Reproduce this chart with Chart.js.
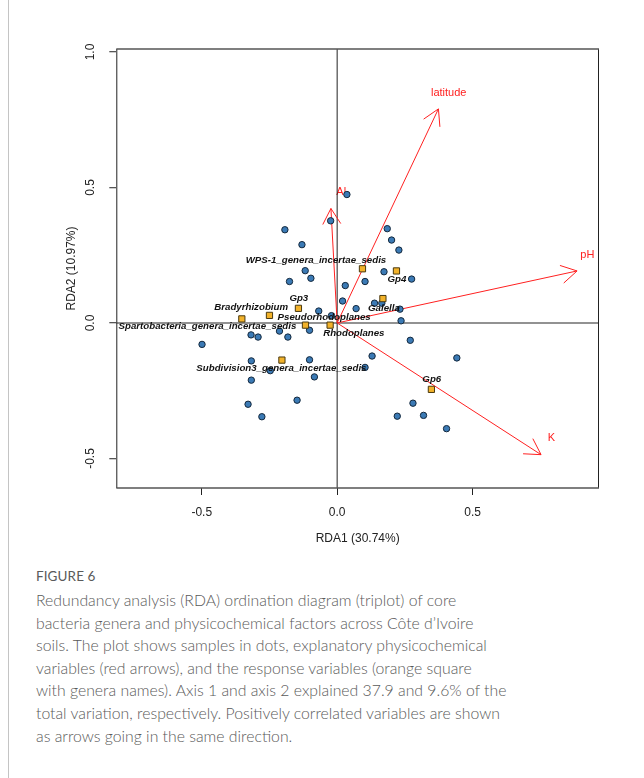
<!DOCTYPE html>
<html>
<head>
<meta charset="utf-8">
<script src="https://cdn.jsdelivr.net/npm/chart.js@4.4.0/dist/chart.umd.min.js"></script>
<style>
body { margin: 0; background: #fff; }
#wrap { position: relative; width: 644px; height: 778px; overflow: hidden; }
#edge { position: absolute; left: 8px; top: 0; width: 1px; height: 778px; background: #c4c4c4; }
#chart { position: absolute; left: 0; top: 0; }
.cap { position: absolute; left: 36px; top: 568px; color: #5a5a5a; font-family: Lato, "Open Sans", sans-serif; }
.cap .fig { font-size: 13.5px; letter-spacing: 0.1px; margin: 0 0 5px 0; }
.cap p { margin: 0; font-size: 15.8px; font-weight: 300; line-height: 22.6px; white-space: nowrap; }
</style>
</head>
<body>
<div id="wrap">
  <div id="edge"></div>
  <canvas id="chart" width="644" height="560"></canvas>
  <div class="cap">
    <div class="fig">FIGURE 6</div>
    <p>Redundancy analysis (RDA) ordination diagram (triplot) of core<br>
    bacteria genera and physicochemical factors across Côte d’Ivoire<br>
    soils. The plot shows samples in dots, explanatory physicochemical<br>
    variables (red arrows), and the response variables (orange square<br>
    with genera names). Axis 1 and axis 2 explained 37.9 and 9.6% of the<br>
    total variation, respectively. Positively correlated variables are shown<br>
    as arrows going in the same direction.</p>
  </div>
</div>
<script>
// site scores (samples)
var siteX = [0.036, -0.024, -0.193, -0.130, -0.118, -0.097, -0.176, 0.030, 0.020, -0.068,
             -0.021, 0.070, -0.318, -0.292, -0.213, -0.182, -0.102, -0.499, -0.317, -0.102,
             -0.247, -0.317, -0.084, -0.329, -0.148, -0.278, 0.103, 0.129, 0.185, 0.201,
             0.228, 0.173, 0.103, 0.275, 0.138, 0.165, 0.232, 0.236, 0.270, 0.442,
             0.280, 0.222, 0.319, 0.404];
var siteY = [0.474, 0.377, 0.344, 0.289, 0.193, 0.165, 0.153, 0.138, 0.081, 0.044,
             0.027, 0.053, -0.044, -0.052, -0.030, -0.052, -0.027, -0.079, -0.140, -0.136,
             -0.176, -0.211, -0.199, -0.300, -0.285, -0.346, -0.164, -0.122, 0.348, 0.306,
             0.269, 0.189, 0.153, 0.162, 0.073, 0.073, 0.051, 0.008, -0.064, -0.129,
             -0.296, -0.344, -0.341, -0.390];

// genus scores
var generaNames = ['WPS-1_genera_incertae_sedis', 'Gp4', 'Galella', 'Gp3', 'Bradyrhizobium',
                   'Spartobacteria_genera_incertae_sedis', 'Pseudorhodoplanes', 'Rhodoplanes',
                   'Subdivision3_genera_incertae_sedis', 'Gp6'];
var generaX = [0.0935, 0.219, 0.169, -0.143, -0.250, -0.352, -0.117, -0.026, -0.204, 0.348];
var generaY = [0.200, 0.192, 0.090, 0.054, 0.028, 0.015, -0.008, -0.008, -0.137, -0.245];

// fitted environmental vectors
var envNames = ['latitude', 'Al', 'pH', 'K'];
var envX = [0.374, -0.023, 0.886, 0.753];
var envY = [0.790, 0.4225, 0.192, -0.486];

var xTicks = [-0.5, 0, 0.5];
var yTicks = [-0.5, 0, 0.5, 1.0];
var xTitle = 'RDA1 (30.74%)';
var yTitle = 'RDA2 (10.97%)';

// label nudges in px so names don't sit on the squares
var generaShift = [[-46.5, -8.4], [0.5, 8], [1, 9.3], [0.4, -10.3], [-18.3, -8],
                   [-34.4, 7.7], [18.7, -8], [23.7, 8], [-0.5, 8.3], [0.4, -10.3]];

var axisFont = { family: '"Liberation Sans", Arial, sans-serif', size: 12 };

var datasets = [];

// abline(h = 0, v = 0)
datasets.push({
    data: [{ x: -2, y: 0 }, { x: 2, y: 0 }],
    showLine: true, borderColor: '#6e6e6e', borderWidth: 1.5, pointRadius: 0, order: 20
});
datasets.push({
    data: [{ x: 0, y: -2 }, { x: 0, y: 2 }],
    showLine: true, borderColor: '#222', borderWidth: 1, pointRadius: 0, order: 19
});

for (var i = 0; i < envNames.length; i++) {
    datasets.push({
        envIndex: i,
        data: [{ x: 0, y: 0 }, { x: envX[i], y: envY[i] }],
        showLine: true, borderColor: '#ff2020', borderWidth: 1, pointRadius: 0, order: 10
    });
}

datasets.push({
    data: siteX.map(function (x, k) { return { x: x, y: siteY[k] }; }),
    pointStyle: 'circle', pointRadius: 3.2, borderWidth: 1,
    backgroundColor: '#3b7ab5', borderColor: '#14283c', order: 2
});

datasets.push({
    data: generaX.map(function (x, k) { return { x: x, y: generaY[k] }; }),
    pointStyle: 'rect', pointRadius: 4.4, borderWidth: 1,
    backgroundColor: '#f2b22a', borderColor: '#4a3a10', order: 1
});

var triplot = {
    id: 'triplot',
    beforeDatasetsDraw: function (chart) {
        var ctx = chart.ctx, xs = chart.scales.x, ys = chart.scales.y;
        ctx.save();
        ctx.fillStyle = '#ff2020';
        ctx.font = '11px "Liberation Sans", Arial, sans-serif';
        ctx.textAlign = 'center';
        ctx.textBaseline = 'middle';
        for (var i = 0; i < envNames.length; i++) {
            ctx.fillText(envNames[i], xs.getPixelForValue(envX[i]) + 10.3, ys.getPixelForValue(envY[i]) - 16.2);
        }
        ctx.restore();
    },
    afterDatasetDraw: function (chart, args) {
        var ds = chart.data.datasets[args.index];
        if (ds.envIndex === undefined) return;
        var ctx = chart.ctx, xs = chart.scales.x, ys = chart.scales.y;
        var x0 = xs.getPixelForValue(0), y0 = ys.getPixelForValue(0);
        var x1 = xs.getPixelForValue(envX[ds.envIndex]), y1 = ys.getPixelForValue(envY[ds.envIndex]);
        var a = Math.atan2(y0 - y1, x0 - x1), len = 18, spread = Math.PI / 6;
        ctx.save();
        ctx.strokeStyle = '#ff2020';
        ctx.lineWidth = 1;
        ctx.beginPath();
        ctx.moveTo(x1 + len * Math.cos(a - spread), y1 + len * Math.sin(a - spread));
        ctx.lineTo(x1, y1);
        ctx.lineTo(x1 + len * Math.cos(a + spread), y1 + len * Math.sin(a + spread));
        ctx.stroke();
        ctx.restore();
    },
    afterDatasetsDraw: function (chart) {
        var ctx = chart.ctx, xs = chart.scales.x, ys = chart.scales.y, ca = chart.chartArea;
        ctx.save();
        ctx.fillStyle = '#111';
        ctx.font = 'italic bold 9.7px "Liberation Sans", Arial, sans-serif';
        ctx.textAlign = 'center';
        ctx.textBaseline = 'middle';
        for (var i = 0; i < generaNames.length; i++) {
            ctx.fillText(generaNames[i],
                xs.getPixelForValue(generaX[i]) + generaShift[i][0],
                ys.getPixelForValue(generaY[i]) + generaShift[i][1]);
        }
        // box()
        ctx.lineWidth = 1;
        ctx.strokeStyle = '#222';
        ctx.beginPath();
        ctx.moveTo(ca.left + 0.5, ca.top); ctx.lineTo(ca.left + 0.5, ca.bottom);
        ctx.moveTo(ca.right - 0.5, ca.top); ctx.lineTo(ca.right - 0.5, ca.bottom);
        ctx.stroke();
        ctx.lineWidth = 1.5;
        ctx.strokeStyle = '#555';
        ctx.beginPath();
        ctx.moveTo(ca.left, ca.top); ctx.lineTo(ca.right, ca.top);
        ctx.moveTo(ca.left, ca.bottom); ctx.lineTo(ca.right, ca.bottom);
        ctx.stroke();
        ctx.restore();
    }
};

new Chart(document.getElementById('chart'), {
    type: 'scatter',
    data: { datasets: datasets },
    options: {
        responsive: false,
        animation: false,
        layout: { padding: { left: 0, top: 49, right: 45, bottom: 0 } },
        plugins: { legend: { display: false }, tooltip: { enabled: false } },
        scales: {
            x: {
                type: 'linear', position: 'bottom', min: -0.8156, max: 0.967,
                afterBuildTicks: function (s) { s.ticks = xTicks.map(function (v) { return { value: v }; }); },
                afterFit: function (s) { s.height = 72; },
                grid: { drawOnChartArea: false, drawTicks: true, tickLength: 7, color: '#222', lineWidth: 1 },
                border: { display: false },
                ticks: { color: '#222', font: axisFont, padding: 10.1, callback: function (v) { return v.toFixed(1); } },
                title: { display: true, text: xTitle, color: '#222', font: axisFont, padding: { top: 0, bottom: 13.8 } }
            },
            y: {
                type: 'linear', position: 'left', min: -0.609, max: 1.011,
                afterBuildTicks: function (s) { s.ticks = yTicks.map(function (v) { return { value: v }; }); },
                afterFit: function (s) { s.width = 116.3; },
                grid: { drawOnChartArea: false, drawTicks: true, tickLength: 7, color: '#555', lineWidth: 1.3 },
                border: { display: false },
                ticks: { color: '#222', font: axisFont, padding: 7.9, minRotation: 90, maxRotation: 90, crossAlign: 'center',
                         callback: function (v) { return v.toFixed(1); } },
                title: { display: true, text: yTitle, color: '#222', font: axisFont, padding: { top: 64.8, bottom: 0 } }
            }
        }
    },
    plugins: [triplot]
});
</script>
</body>
</html>
